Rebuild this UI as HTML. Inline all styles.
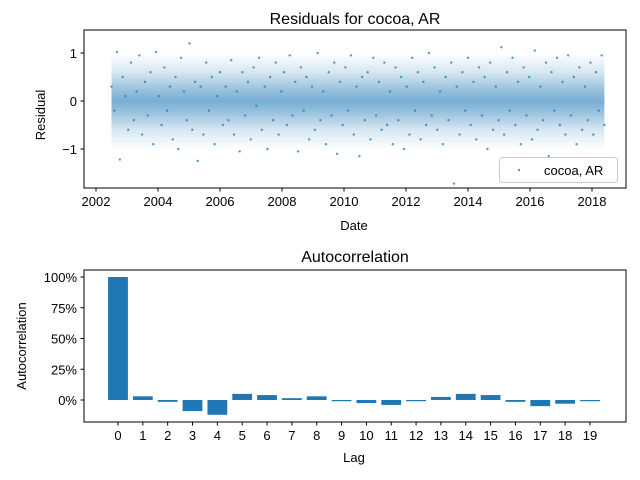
<!DOCTYPE html>
<html><head><meta charset="utf-8"><style>
body{margin:0;background:#fff}
svg{display:block;font-family:"Liberation Sans","DejaVu Sans",sans-serif}
</style></head><body>
<svg id="c" width="640" height="480" viewBox="0 0 640 480">
<defs><linearGradient id="band" x1="0" y1="0" x2="0" y2="1">
<stop offset="0" stop-color="#1f77b4" stop-opacity="0"/>
<stop offset="0.2" stop-color="#1f77b4" stop-opacity="0.18"/>
<stop offset="0.38" stop-color="#1f77b4" stop-opacity="0.45"/>
<stop offset="0.5" stop-color="#1f77b4" stop-opacity="0.6"/>
<stop offset="0.62" stop-color="#1f77b4" stop-opacity="0.45"/>
<stop offset="0.8" stop-color="#1f77b4" stop-opacity="0.18"/>
<stop offset="1" stop-color="#1f77b4" stop-opacity="0"/>
</linearGradient></defs>
<g id="top"></g>
<g id="bot"></g>
</svg>
<script>
const residualValues=[0.3,-0.2,1.02,-1.22,0.5,0.1,-0.6,0.8,-0.4,0.2,0.95,-0.7,0.4,-0.3,0.6,-0.9,1.02,0.1,-0.5,0.7,-0.2,0.3,-0.8,0.5,-1.0,0.9,0.2,-0.4,1.2,-0.6,0.4,-1.25,0.3,-0.7,0.8,-0.2,0.5,-0.9,0.1,0.6,-0.5,0.3,-0.4,0.85,-0.7,0.2,-1.05,0.6,-0.3,0.4,-0.8,0.7,-0.1,0.9,-0.6,0.3,-1.0,0.5,-0.4,0.8,-0.7,0.2,0.6,-0.5,0.95,-0.3,0.4,-1.05,0.7,-0.2,0.5,-0.8,0.3,-0.6,1.0,-0.4,0.2,-0.9,0.6,-0.3,0.8,-1.1,0.4,-0.5,0.7,-0.2,0.95,-0.7,0.3,-1.15,0.5,-0.4,0.6,-0.8,0.9,-0.3,0.4,-0.6,0.8,-0.5,0.2,-0.9,0.7,-0.4,0.5,-1.0,0.3,-0.7,0.9,-0.2,0.6,-0.8,0.4,-0.5,1.0,-0.3,0.7,-0.6,0.2,-0.9,0.5,-0.4,0.8,-1.72,0.3,-0.7,0.6,-0.2,0.9,-0.5,0.4,-0.8,0.7,-0.3,0.5,-1.0,0.8,-0.6,0.3,-0.4,1.12,-0.7,0.6,-0.2,0.9,-0.5,0.4,-0.9,0.7,-0.3,0.5,-0.8,1.05,-0.6,0.3,-0.4,0.8,-1.15,0.6,-0.2,0.9,-0.5,0.4,-0.7,0.95,-0.3,0.5,-0.9,0.7,-0.6,0.3,-0.4,0.8,-0.7,0.6,-0.2,0.95,-0.5];
const dateStart=2002.5, dateEnd=2018.4;
const xTicks=[2002,2004,2006,2008,2010,2012,2014,2016,2018];
const yTicks=[-1,0,1];
const lags=[0,1,2,3,4,5,6,7,8,9,10,11,12,13,14,15,16,17,18,19];
const acf=[1,0.03,-0.015,-0.09,-0.12,0.05,0.04,0.015,0.03,-0.01,-0.025,-0.04,-0.01,0.025,0.05,0.04,-0.015,-0.05,-0.03,-0.01];
const acfTicks=[0,0.25,0.5,0.75,1];
const NS="http://www.w3.org/2000/svg";
function mk(p,t,a,txt){const e=document.createElementNS(NS,t);for(const k in a)e.setAttribute(k,a[k]);if(txt!=null)e.textContent=txt;p.appendChild(e);return e;}
// top
const T=document.getElementById('top');
const tx=v=>96+(v-2002)*31, ty=v=>101-v*48;
const band=mk(T,'rect',{x:tx(dateStart),y:ty(1.0),width:tx(dateEnd)-tx(dateStart),height:ty(-1.0)-ty(1.0),fill:'url(#band)'});


residualValues.forEach((v,i)=>{const d=dateStart+(dateEnd-dateStart)*i/(residualValues.length-1);
const c=mk(T,'circle',{cx:tx(d),cy:ty(v),r:1.2,fill:'#1f77b4','fill-opacity':0.75});

});
const f1=mk(T,'rect',{x:84,y:30,width:542,height:158,fill:'none',stroke:'#000','stroke-width':1});

xTicks.forEach(v=>{mk(T,'line',{x1:tx(v),x2:tx(v),y1:188,y2:191.5,stroke:'#000'});const t=mk(T,'text',{x:tx(v),y:206,'font-size':13,'text-anchor':'middle'},v);});
yTicks.forEach(v=>{mk(T,'line',{x1:80.5,x2:84,y1:ty(v),y2:ty(v),stroke:'#000'});const t=mk(T,'text',{x:77,y:ty(v)+5,'font-size':13,'text-anchor':'end'},v===-1?'−1':v);});
let e=mk(T,'text',{x:355,y:24,'font-size':16,'text-anchor':'middle'},'Residuals for cocoa, AR');
e=mk(T,'text',{x:354,y:230,'font-size':13,'text-anchor':'middle'},'Date');
e=mk(T,'text',{x:45,y:115,'font-size':13,'text-anchor':'middle',transform:'rotate(-90 45 115)'},'Residual');
const lg=mk(T,'g',{});
mk(lg,'rect',{x:499.5,y:157.5,width:118,height:25,rx:3,fill:'#fff','fill-opacity':0.8,stroke:'#ccc'});
mk(lg,'circle',{cx:519,cy:170,r:1,fill:'#1f77b4'});
mk(lg,'text',{x:544,y:175,'font-size':13},'cocoa, AR');
// bottom
const B=document.getElementById('bot');
const bx=v=>118+v*24.84, by=v=>400-v*123;
lags.forEach((l,i)=>{const v=acf[i];const r=mk(B,'rect',{x:bx(l)-9.9,y:Math.min(by(v),by(0)),width:19.8,height:Math.abs(by(v)-by(0)),fill:'#1f77b4'});


mk(B,'line',{x1:bx(l),x2:bx(l),y1:422,y2:425.5,stroke:'#000'});
const t=mk(B,'text',{x:bx(l),y:440,'font-size':13,'text-anchor':'middle'},l);});
mk(B,'rect',{x:84,y:270,width:542,height:152,fill:'none',stroke:'#000'});
acfTicks.forEach(v=>{mk(B,'line',{x1:80.5,x2:84,y1:by(v),y2:by(v),stroke:'#000'});const t=mk(B,'text',{x:77,y:by(v)+5,'font-size':13,'text-anchor':'end'},Math.round(v*100)+'%');});
e=mk(B,'text',{x:355,y:262,'font-size':16,'text-anchor':'middle'},'Autocorrelation');
e=mk(B,'text',{x:354,y:462,'font-size':13,'text-anchor':'middle'},'Lag');
e=mk(B,'text',{x:26,y:346,'font-size':13,'text-anchor':'middle',transform:'rotate(-90 26 346)'},'Autocorrelation');
</script>
</body></html>
